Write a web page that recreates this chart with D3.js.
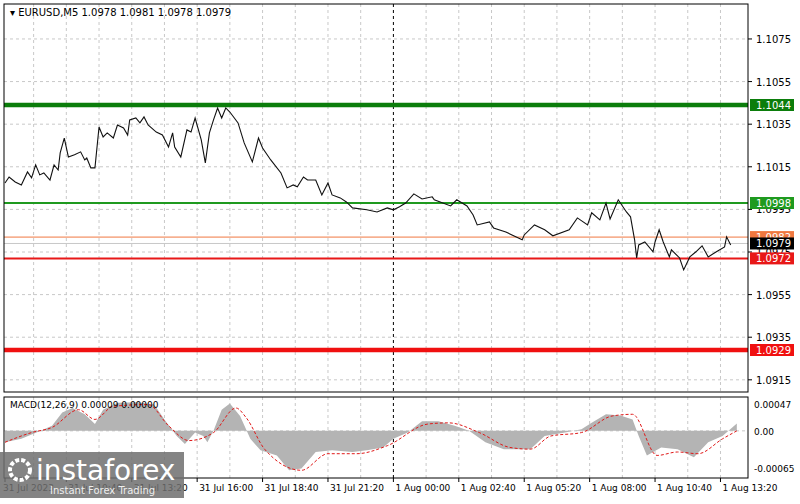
<!DOCTYPE html><html><head><meta charset="utf-8">
<script src="https://cdn.jsdelivr.net/npm/d3@7"></script>
<style>body{margin:0;background:#fff}text{font-family:Tahoma,"DejaVu Sans",sans-serif}</style></head><body>
<svg id="c" width="800" height="504"></svg>
<script>
const priceBars=[0,2,5,8,11,13,15,17,19,22,24,26,27,29,31,34,37,39,40,42,44,46,48,50,53,55,58,60,61,64,66,68,70,74,77,80,82,83,86,89,91,93,96,98,100,102,104,106,108,110,114,117,121,124,126,130,135,138,141,143,146,148,152,155,158,160,164,167,170,177,182,187,190,193,196,200,204,209,210,218,221,226,229,231,237,239,245,253,254,259,264,268,276,280,285,287,291,294,296,300,304,306,308,309,310,313,317,318,320,322,325,326,330,332,335,338,341,344,348,352,353,355,358];
const prices=[1.10074,1.10102,1.10079,1.10065,1.10126,1.10098,1.10159,1.10112,1.10121,1.10088,1.10159,1.10135,1.10215,1.10285,1.10196,1.10206,1.10220,1.10182,1.10191,1.10145,1.10145,1.10337,1.10290,1.10309,1.10285,1.10346,1.10332,1.10299,1.10370,1.10379,1.10356,1.10384,1.10346,1.10313,1.10299,1.10243,1.10309,1.10243,1.10196,1.10323,1.10313,1.10379,1.10276,1.10168,1.10309,1.10370,1.10426,1.10379,1.10426,1.10407,1.10356,1.10262,1.10173,1.10285,1.10238,1.10182,1.10121,1.10051,1.10065,1.10056,1.10102,1.10088,1.10088,1.10018,1.10074,1.10018,1.10004,1.09985,1.09957,1.09948,1.09938,1.09957,1.09948,1.09962,1.09980,1.10023,1.09999,1.10009,1.09995,1.09966,1.09995,1.09966,1.09924,1.09877,1.09891,1.09863,1.09844,1.09807,1.09830,1.09877,1.09854,1.09826,1.09854,1.09910,1.09877,1.09934,1.09901,1.09980,1.09905,1.09995,1.09938,1.09915,1.09807,1.09722,1.09783,1.09797,1.09751,1.09797,1.09854,1.09797,1.09727,1.09760,1.09722,1.09666,1.09727,1.09751,1.09779,1.09727,1.09751,1.09774,1.09821,1.09783];
const histBars=[0,8,16,23,28,33,39,44,48,55,65,73,78,84,88,93,97,99,102,106,110,115,120,125,133,139,145,152,160,170,177,185,190,197,204,212,220,227,235,244,257,264,274,282,287,294,301,307,310,314,321,329,337,344,351,358];
const histVals=[-0.00020,-0.00014,-0.00002,0.00009,0.00032,0.00040,0.00029,0.00012,0.00037,0.00049,0.00050,0.00046,0.00020,-0.00009,-0.00023,-0.00003,-0.00009,-0.00020,0.00000,0.00037,0.00048,0.00026,-0.00014,-0.00034,-0.00043,-0.00069,-0.00066,-0.00037,-0.00034,-0.00037,-0.00034,-0.00029,-0.00014,-0.00003,0.00017,0.00017,0.00009,0.00000,-0.00020,-0.00032,-0.00032,-0.00009,-0.00003,0.00003,0.00014,0.00029,0.00027,0.00020,-0.00009,-0.00043,-0.00029,-0.00032,-0.00046,-0.00020,-0.00009,0.00013];
const sigBars=[0,13,23,36,44,53,70,80,90,102,113,118,127,145,158,172,187,207,217,232,247,257,267,282,297,307,319,329,339,351,358];
const sigVals=[-0.00020,-0.00003,0.00006,0.00037,0.00020,0.00043,0.00046,0.00009,-0.00017,-0.00003,0.00040,0.00023,-0.00032,-0.00069,-0.00040,-0.00040,-0.00026,0.00012,0.00014,-0.00003,-0.00029,-0.00032,-0.00009,-0.00003,0.00026,0.00029,-0.00043,-0.00037,-0.00040,-0.00014,0.00000];
const priceTicks=[1.1075,1.1055,1.1035,1.1015,1.0995,1.0975,1.0955,1.0935,1.0915];
const macdTicks=[0.00047,0.00,-0.00065];
const timeTickBars=[0,30,62,94,126,158,190,222,254,286,318,350];
const timeLabels=["31 Jul 2023","31 Jul 10:40","31 Jul 13:20","31 Jul 16:00","31 Jul 18:40","31 Jul 21:20","1 Aug 00:00","1 Aug 02:40","1 Aug 05:20","1 Aug 08:00","1 Aug 10:40","1 Aug 13:20"];
const levels=[{v:1.1044,c:"#0b7d0b",w:4.5},{v:1.0998,c:"#1f9a1f",w:2},{v:1.0982,c:"#f07840",w:1},{v:1.0979,c:"#c8c8c8",w:1},{v:1.0972,c:"#e81818",w:2},{v:1.0929,c:"#f01010",w:4.5}];
const labelBg={"1.1044":"#0b7d0b","1.0998":"#1f9a1f","1.0982":"#f07840","1.0979":"#000","1.0972":"#e81818","1.0929":"#f01010"};

const svg=d3.select("#c");
const L=4,R=748,T=4,B=392,MT=397,MB=478;
const x=d3.scaleLinear().domain([0,362]).range([L+1,R-3]);
const y=d3.scaleLinear().domain([1.1044,1.0929]).range([105,350]);
const ym=d3.scaleLinear().domain([0.00047,-0.00065]).range([404,468]);
// grid
const vx=d3.range(-2,364,16);
[[T,B],[MT,MB]].forEach(([a,b])=>{
 svg.append("g").selectAll("line").data(vx.filter(v=>x(v)>L&&x(v)<R)).join("line")
  .attr("x1",d=>x(d)).attr("x2",d=>x(d)).attr("y1",a).attr("y2",b)
  .attr("stroke",d=>d===190?"#000":"#c8c8c8").attr("stroke-dasharray","3,3");
});
svg.append("g").selectAll("line").data(priceTicks).join("line").attr("x1",L).attr("x2",R)
 .attr("y1",d=>y(d)).attr("y2",d=>y(d)).attr("stroke","#c8c8c8").attr("stroke-dasharray","3,3");
svg.append("line").attr("x1",L).attr("x2",R).attr("y1",ym(0)).attr("y2",ym(0)).attr("stroke","#c8c8c8").attr("stroke-dasharray","3,3");
// price axis labels
svg.append("g").selectAll("text").data(priceTicks).join("text").attr("x",756).attr("y",d=>y(d)+4)
 .attr("font-size",10).text(d=>d.toFixed(4));
svg.append("g").selectAll("line").data(priceTicks).join("line").attr("x1",R).attr("x2",R+4).attr("y1",d=>y(d)).attr("y2",d=>y(d)).attr("stroke","#000");
// levels
levels.forEach(l=>{
 svg.append("line").attr("x1",L).attr("x2",R).attr("y1",y(l.v)).attr("y2",y(l.v)).attr("stroke",l.c).attr("stroke-width",l.w);
});
levels.forEach(l=>{
 const k=l.v.toFixed(4);
 svg.append("rect").attr("x",R+2).attr("y",y(l.v)-6).attr("width",44).attr("height",12).attr("fill",labelBg[k]);
 svg.append("text").attr("x",R+8).attr("y",y(l.v)+4).attr("font-size",10).attr("fill","#fff").text(k);
});
// price line
const pts=priceBars.map((b,i)=>[b,prices[i]]);
svg.append("path").datum(pts).attr("fill","none").attr("stroke","#111").attr("stroke-width",1.1)
 .attr("d",d3.line().x(d=>x(d[0])).y(d=>y(d[1])));
// frames
svg.append("rect").attr("x",L).attr("y",T).attr("width",R-L).attr("height",B-T).attr("fill","none").attr("stroke","#000");
svg.append("rect").attr("x",L).attr("y",MT).attr("width",R-L).attr("height",MB-MT).attr("fill","none").attr("stroke","#000");
svg.append("text").attr("x",10).attr("y",16).attr("font-size",10).text("▾ EURUSD,M5  1.0978 1.0981 1.0978 1.0979");
// MACD
const hp=histBars.map((b,i)=>[b,histVals[i]]);
svg.append("path").datum(hp).attr("fill","#b4b4b4")
 .attr("d",d3.area().x(d=>x(d[0])).y0(ym(0)).y1(d=>ym(d[1])));
const sp=sigBars.map((b,i)=>[b,sigVals[i]]);
svg.append("path").datum(sp).attr("fill","none").attr("stroke","#e01818").attr("stroke-width",1).attr("stroke-dasharray","3,2")
 .attr("d",d3.line().curve(d3.curveMonotoneX).x(d=>x(d[0])).y(d=>ym(d[1])));
svg.append("text").attr("x",10).attr("y",408).attr("font-size",9).text("MACD(12,26,9) 0.00009 0.00000");
svg.append("g").selectAll("text").data(macdTicks).join("text").attr("x",754).attr("y",d=>ym(d)+4)
 .attr("font-size",9).text(d=>d===0?"0.00":d.toFixed(5));
// time axis
svg.append("g").selectAll("text").data(timeTickBars).join("text").attr("x",(d,i)=>x(d)+(i===0?-2:2)).attr("y",491)
 .attr("font-size",9).text((d,i)=>timeLabels[i]);
svg.append("g").selectAll("line").data(timeTickBars).join("line").attr("x1",d=>x(d)).attr("x2",d=>x(d)).attr("y1",MB).attr("y2",MB+4).attr("stroke","#000");
// watermark
const w=svg.append("g");
w.append("rect").attr("x",0).attr("y",452).attr("width",184).attr("height",46).attr("fill","#6e6e6e").attr("opacity",0.85);
w.append("circle").attr("cx",20).attr("cy",470).attr("r",10).attr("fill","none").attr("stroke","#fff").attr("stroke-width",4).attr("stroke-dasharray","4,2");
w.append("text").attr("x",36).attr("y",480).attr("font-size",28).attr("fill","#fff").attr("font-family","Open Sans").text("instaforex");
w.append("text").attr("x",50).attr("y",494).attr("font-size",10).attr("fill","#eee").text("Instant Forex Trading");
</script></body></html>
